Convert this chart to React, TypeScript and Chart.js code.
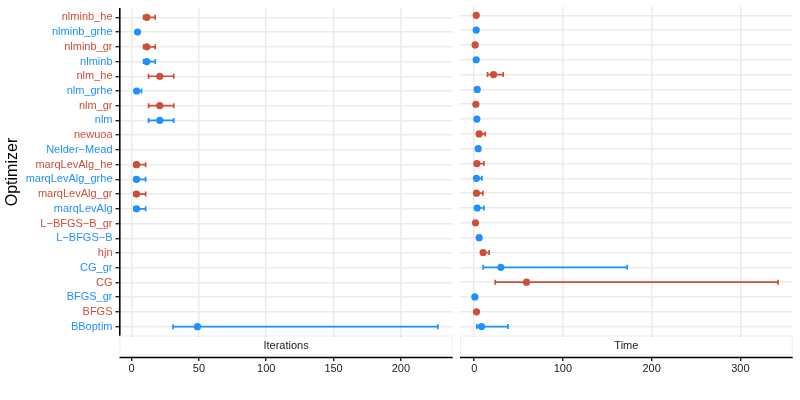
import React, { useEffect, useRef } from "react";
import { Chart, registerables } from "chart.js";

Chart.register(...registerables);

// ---- data ----
const optimizers = [
  "nlminb_he", "nlminb_grhe", "nlminb_gr", "nlminb",
  "nlm_he", "nlm_grhe", "nlm_gr", "nlm",
  "newuoa", "Nelder−Mead",
  "marqLevAlg_he", "marqLevAlg_grhe", "marqLevAlg_gr", "marqLevAlg",
  "L−BFGS−B_gr", "L−BFGS−B", "hjn", "CG_gr", "CG", "BFGS_gr", "BFGS", "BBoptim",
];
// 0 = red group, 1 = blue group
const groups = [0, 1, 0, 1, 0, 1, 0, 1, 0, 1, 0, 1, 0, 1, 0, 1, 0, 1, 0, 1, 0, 1];

const iterMean = [11.3, 4.4, 11.3, 11.3, 20.9, 3.7, 20.9, 20.9, null, null, 3.7, 3.7, 3.7, 3.7, null, null, null, null, null, null, null, 48.9];
const iterLow = [8.9, 3.6, 8.9, 8.9, 12.6, 3.0, 12.6, 12.6, null, null, 1.7, 1.7, 1.7, 1.7, null, null, null, null, null, null, null, 30.8];
const iterHigh = [17.5, 5.2, 17.5, 17.5, 31.3, 7.4, 31.3, 31.3, null, null, 10.4, 10.4, 10.4, 10.4, null, null, null, null, null, null, null, 227.5];

const timeMean = [2.3, 2.3, 1.1, 2.3, 21.8, 3.4, 1.9, 3.0, 5.6, 4.5, 3.0, 2.6, 2.6, 3.4, 1.5, 5.6, 10.1, 30.0, 59.0, 0.7, 2.6, 8.3];
const timeLow = [1.5, 1.5, 0.5, 1.5, 15.0, 2.5, 1.0, 2.0, 3.0, 3.0, 1.0, 1.0, 1.0, 1.5, 1.0, 4.5, 7.9, 10.1, 23.7, 0.3, 2.0, 3.0];
const timeHigh = [3.2, 3.2, 1.8, 3.2, 32.7, 4.5, 2.8, 4.0, 12.4, 6.0, 11.0, 8.7, 9.8, 11.0, 2.0, 6.5, 16.9, 172.4, 342.5, 1.2, 3.2, 38.0];

const iterTicks = [0, 50, 100, 150, 200];
const timeTicks = [0, 100, 200, 300];

const panelTitles = ["Iterations", "Time"];

// ---- style ----
const RED = "#CD4F39";
const BLUE = "#1E90FF";
const groupColors = [RED, BLUE];
const GRID = "#EBEBEB";
const FONT = "'Liberation Sans', Arial, Helvetica, sans-serif";
const PLOT_TOP = 6.4;
const PLOT_BOTTOM = 335.5;
const AXIS_Y = 357.5;

function buildDatasets(mean: (number | null)[], low: (number | null)[], high: (number | null)[]) {
  const pointColors: string[] = [];
  const pts: { x: number; y: number }[] = [];
  mean.forEach((m, i) => {
    if (m !== null) {
      pts.push({ x: m, y: i });
      pointColors.push(groupColors[groups[i]]);
    }
  });
  const datasets: any[] = [
    {
      type: "scatter",
      data: pts,
      pointRadius: 3.6,
      pointBackgroundColor: pointColors,
      pointBorderColor: pointColors,
      pointBorderWidth: 0,
      order: 0,
    },
  ];
  low.forEach((lo, i) => {
    const hi = high[i];
    if (lo === null || hi === null) return;
    const c = groupColors[groups[i]];
    datasets.push({
      type: "line",
      data: [
        { x: lo, y: i },
        { x: hi, y: i },
      ],
      borderColor: c,
      borderWidth: 1.7,
      pointStyle: "line",
      rotation: 90,
      pointRadius: 2.5,
      pointBorderWidth: 1.7,
      pointBorderColor: c,
      pointBackgroundColor: c,
      fill: false,
      order: 1,
    });
  });
  return datasets;
}

function stripPlugin(title: string) {
  return {
    id: "strip",
    afterDraw(chart: any) {
      const { ctx, chartArea } = chart;
      const l = chartArea.left;
      const r = chartArea.right;
      ctx.save();
      ctx.fillStyle = "#FFFFFF";
      ctx.fillRect(l - 0.5, PLOT_BOTTOM + 0.8, r - l + 1, AXIS_Y - PLOT_BOTTOM - 1.5);
      ctx.strokeStyle = "#EEEEEE";
      ctx.lineWidth = 1;
      ctx.strokeRect(l + 0.5, PLOT_BOTTOM + 0.5, r - l - 1, 19);
      ctx.fillStyle = "#1A1A1A";
      ctx.font = `11px ${FONT}`;
      ctx.textAlign = "center";
      ctx.textBaseline = "middle";
      ctx.fillText(title, (l + r) / 2, PLOT_BOTTOM + 10.5);
      ctx.strokeStyle = "#000000";
      ctx.lineWidth = 1.5;
      ctx.beginPath();
      ctx.moveTo(l, AXIS_Y);
      ctx.lineTo(r, AXIS_Y);
      ctx.stroke();
      ctx.restore();
    },
  };
}

function makeConfig(
  which: number,
  mean: (number | null)[],
  low: (number | null)[],
  high: (number | null)[],
  xmin: number,
  xmax: number,
  tickVals: number[]
): any {
  const isLeft = which === 0;
  return {
    type: "scatter",
    data: { datasets: buildDatasets(mean, low, high) },
    plugins: [stripPlugin(panelTitles[which])],
    options: {
      animation: false,
      responsive: false,
      events: [],
      layout: {
        padding: isLeft
          ? { top: PLOT_TOP, right: 800 - 452.7, bottom: 0, left: 0 }
          : { top: PLOT_TOP, right: 800 - 792.7, bottom: 0, left: 460 },
      },
      plugins: { legend: { display: false }, tooltip: { enabled: false } },
      scales: {
        x: {
          type: "linear",
          position: "bottom",
          min: xmin,
          max: xmax,
          afterBuildTicks: (s: any) => {
            s.ticks = tickVals.map((v) => ({ value: v }));
          },
          afterFit: (s: any) => {
            s.height = 400 - PLOT_BOTTOM;
          },
          grid: {
            color: GRID,
            lineWidth: 1.5,
            drawTicks: true,
            tickLength: 25.5,
            tickColor: "#000000",
            tickWidth: 1.2,
          },
          border: { display: false },
          ticks: {
            color: "#1A1A1A",
            font: { family: FONT, size: 11 },
            padding: 1,
            maxRotation: 0,
            includeBounds: false,
          },
        },
        y: {
          type: "linear",
          reverse: true,
          min: -0.6,
          max: optimizers.length - 1 + 0.6,
          afterBuildTicks: (s: any) => {
            s.ticks = optimizers.map((_, i) => ({ value: i }));
          },
          afterFit: (s: any) => {
            s.width = isLeft ? 119.5 : 0;
          },
          grid: {
            color: GRID,
            lineWidth: 1.5,
            drawTicks: isLeft,
            tickLength: 4,
            tickColor: "#000000",
            tickWidth: 1.2,
          },
          border: { display: isLeft, color: "#000000", width: 1.6 },
          ticks: {
            display: isLeft,
            autoSkip: false,
            padding: 3,
            font: { family: FONT, size: 11, lineHeight: 1 },
            color: (c: any) => groupColors[groups[c.index] ?? 0],
            callback: (v: any) => optimizers[Math.round(v)] ?? "",
          },
          title: {
            display: isLeft,
            text: "Optimizer",
            color: "#000000",
            font: { family: FONT, size: 16 },
            padding: { top: 3, bottom: 0 },
          },
        },
      },
    },
  };
}

export default function App() {
  const leftRef = useRef<HTMLCanvasElement | null>(null);
  const rightRef = useRef<HTMLCanvasElement | null>(null);

  useEffect(() => {
    const c1 = new Chart(
      leftRef.current as HTMLCanvasElement,
      makeConfig(0, iterMean, iterLow, iterHigh, -9, 238.5, iterTicks)
    );
    const c2 = new Chart(
      rightRef.current as HTMLCanvasElement,
      makeConfig(1, timeMean, timeLow, timeHigh, -16, 359, timeTicks)
    );
    return () => {
      c1.destroy();
      c2.destroy();
    };
  }, []);

  const canvasStyle: React.CSSProperties = {
    position: "absolute",
    left: 0,
    top: 0,
    width: 800,
    height: 400,
  };

  return (
    <div style={{ position: "fixed", left: 0, top: 0, width: 800, height: 400, background: "#FFFFFF" }}>
      <canvas ref={leftRef} width={800} height={400} style={canvasStyle} />
      <canvas ref={rightRef} width={800} height={400} style={canvasStyle} />
    </div>
  );
}
